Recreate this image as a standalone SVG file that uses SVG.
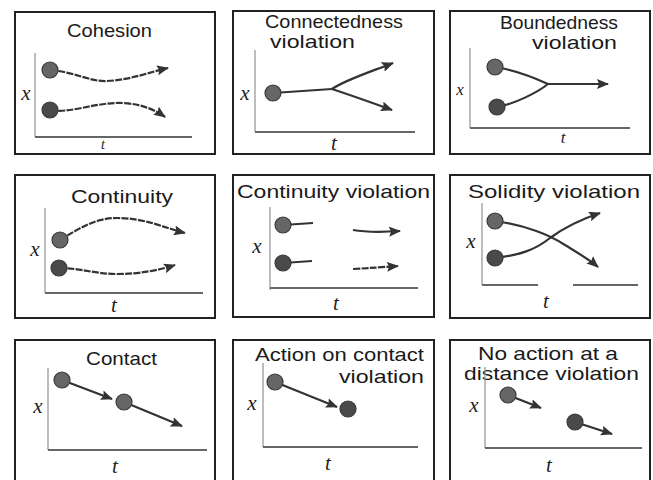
<svg xmlns="http://www.w3.org/2000/svg" width="653" height="480" viewBox="0 0 653 480">
<style>
.box{fill:#fff;stroke:#222;stroke-width:2}
.ttl{font-family:"Liberation Sans",Arial,sans-serif;font-size:19px;fill:#1a1a1a}
.lab{font-family:"Liberation Serif","Times New Roman",serif;font-style:italic;font-size:21px;fill:#222;text-anchor:middle}
.ax{stroke:#999;stroke-width:1.3;fill:none}
.axh{stroke:#666;stroke-width:1.8;fill:none}
.ln{stroke:#333;stroke-width:2.2;fill:none}
.lna{stroke:#333;stroke-width:2.2;fill:none;marker-end:url(#ah)}
.dsh{stroke-dasharray:7 1.3}
.ball{fill:#666;stroke:#3a3a3a;stroke-width:1.2}
</style>
<defs>
<marker id="ah" markerWidth="12" markerHeight="10" refX="11" refY="5" orient="auto" markerUnits="userSpaceOnUse">
<path d="M0,0 L12,5 L0,10 L2,5 z" fill="#333"/>
</marker>
</defs>
<rect width="653" height="480" fill="#fff"/>

<g id="cohesion">
<rect class="box" x="15" y="12" width="200" height="142"/>
<text class="ttl" x="67" y="37" textLength="85" lengthAdjust="spacingAndGlyphs">Cohesion</text>
<path class="ax" d="M35,53 V137"/>
<path class="axh" d="M35,137 H192"/>
<text class="lab" x="26" y="100">x</text>
<text class="lab" x="103" y="149" style="font-size:14px">t</text>
<path class="lna dsh" d="M50,70 C75,72 90,82 107,81 C130,80 150,72 168,68"/>
<path class="lna dsh" d="M50,110 C70,114 95,102 123,103 C142,104 155,110 165,117"/>
<circle class="ball" cx="50" cy="70" r="8"/>
<circle class="ball" cx="50" cy="110" r="8" style="fill:#4a4a4a"/>
</g>

<g id="connectedness">
<rect class="box" x="233" y="11" width="201" height="143"/>
<text class="ttl" x="265" y="28" textLength="138" lengthAdjust="spacingAndGlyphs">Connectedness</text>
<text class="ttl" x="270" y="48" textLength="85" lengthAdjust="spacingAndGlyphs">violation</text>
<path class="ax" d="M255,50 V132"/>
<path class="axh" d="M255,132 H415"/>
<text class="lab" x="245" y="100">x</text>
<text class="lab" x="334" y="150">t</text>
<path class="ln" d="M273,93 L332,89"/>
<path class="lna" d="M332,89 C345,80 370,72 393,63"/>
<path class="lna" d="M332,89 C350,95 370,102 392,110"/>
<circle class="ball" cx="273" cy="93" r="8"/>
</g>

<g id="boundedness">
<rect class="box" x="450" y="11" width="200" height="143"/>
<text class="ttl" x="500" y="29" textLength="118" lengthAdjust="spacingAndGlyphs">Boundedness</text>
<text class="ttl" x="532" y="49" textLength="85" lengthAdjust="spacingAndGlyphs">violation</text>
<path class="ax" d="M470,48 V128"/>
<path class="axh" d="M470,128 H630"/>
<text class="lab" x="460" y="95" style="font-size:17px">x</text>
<text class="lab" x="563" y="143" style="font-size:17px">t</text>
<path class="ln" d="M495,67 C515,70 535,78 548,84"/>
<path class="ln" d="M497,107 C515,104 538,92 548,84"/>
<path class="lna" d="M548,84 L608,84"/>
<circle class="ball" cx="495" cy="67" r="8"/>
<circle class="ball" cx="497" cy="107" r="8" style="fill:#4a4a4a"/>
</g>

<g id="continuity">
<rect class="box" x="15" y="175" width="200" height="143"/>
<text class="ttl" x="71" y="203" textLength="102" lengthAdjust="spacingAndGlyphs">Continuity</text>
<path class="ax" d="M45,208 V293"/>
<path class="axh" d="M45,293 H203"/>
<text class="lab" x="35" y="256">x</text>
<text class="lab" x="114" y="312">t</text>
<path class="lna dsh" d="M60,240 C80,228 95,218 117,218 C145,218 165,228 185,233"/>
<path class="lna dsh" d="M59,268 C80,268 95,274 117,274 C140,274 160,270 175,265"/>
<circle class="ball" cx="60" cy="240" r="8"/>
<circle class="ball" cx="59" cy="268" r="8" style="fill:#4a4a4a"/>
</g>

<g id="continuity-violation">
<rect class="box" x="233" y="175" width="201" height="142"/>
<text class="ttl" x="237" y="198" textLength="193" lengthAdjust="spacingAndGlyphs">Continuity violation</text>
<path class="ax" d="M270,207 V290"/>
<path class="axh" d="M270,288 H418"/>
<text class="lab" x="257" y="253">x</text>
<text class="lab" x="336" y="310">t</text>
<path class="ln" d="M283,225 L313,223"/>
<path class="ln" d="M283,263 L312,261"/>
<path class="lna" d="M353,230 C370,233 385,232 400,231"/>
<path class="lna dsh" d="M353,269 C370,268 385,267 398,266"/>
<circle class="ball" cx="283" cy="225" r="8"/>
<circle class="ball" cx="283" cy="263" r="8" style="fill:#4a4a4a"/>
</g>

<g id="solidity-violation">
<rect class="box" x="450" y="175" width="200" height="143"/>
<text class="ttl" x="468" y="198" textLength="172" lengthAdjust="spacingAndGlyphs">Solidity violation</text>
<path class="ax" d="M482,203 V285"/>
<path class="axh" d="M482,285 H538 M573,285 H638"/>
<text class="lab" x="471" y="248">x</text>
<text class="lab" x="546" y="308">t</text>
<path class="lna" d="M495,221 C525,225 550,235 565,245 C578,253 590,260 598,267"/>
<path class="lna" d="M495,258 C520,255 535,250 550,238 C565,227 585,218 600,213"/>
<circle class="ball" cx="495" cy="221" r="8"/>
<circle class="ball" cx="495" cy="258" r="8" style="fill:#4a4a4a"/>
</g>

<g id="contact">
<rect class="box" x="15" y="340" width="200" height="145"/>
<text class="ttl" x="86" y="365" textLength="71" lengthAdjust="spacingAndGlyphs">Contact</text>
<path class="ax" d="M48,368 V450"/>
<path class="axh" d="M48,450 H207"/>
<text class="lab" x="38" y="413">x</text>
<text class="lab" x="115" y="473">t</text>
<path class="lna" d="M62,380 L112,399"/>
<path class="lna" d="M124,402 L182,426"/>
<circle class="ball" cx="62" cy="380" r="8"/>
<circle class="ball" cx="124" cy="402" r="8"/>
</g>

<g id="action-on-contact-violation">
<rect class="box" x="233" y="340" width="201" height="145"/>
<text class="ttl" x="255" y="361" textLength="169" lengthAdjust="spacingAndGlyphs">Action on contact</text>
<text class="ttl" x="339" y="383" textLength="85" lengthAdjust="spacingAndGlyphs">violation</text>
<path class="ax" d="M263,363 V447"/>
<path class="axh" d="M263,447 H418"/>
<text class="lab" x="252" y="410">x</text>
<text class="lab" x="328" y="470">t</text>
<path class="lna" d="M275,382 L337,407"/>
<circle class="ball" cx="275" cy="382" r="8"/>
<circle class="ball" cx="348" cy="409" r="8" style="fill:#4a4a4a"/>
</g>

<g id="no-action-at-a-distance-violation">
<rect class="box" x="450" y="340" width="200" height="145"/>
<text class="ttl" x="478" y="360" textLength="140" lengthAdjust="spacingAndGlyphs">No action at a</text>
<text class="ttl" x="464" y="380" textLength="175" lengthAdjust="spacingAndGlyphs">distance violation</text>
<path class="ax" d="M485,367 V448"/>
<path class="axh" d="M485,448 H642"/>
<text class="lab" x="474" y="412">x</text>
<text class="lab" x="549" y="472">t</text>
<path class="lna" d="M508,395 L541,408"/>
<path class="lna" d="M575,422 L612,434"/>
<circle class="ball" cx="508" cy="395" r="8"/>
<circle class="ball" cx="575" cy="422" r="8" style="fill:#4a4a4a"/>
</g>
</svg>
